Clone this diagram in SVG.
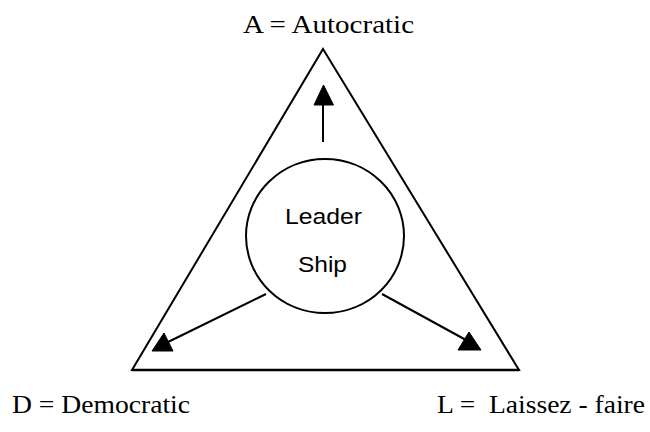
<svg xmlns="http://www.w3.org/2000/svg" width="650" height="432" viewBox="0 0 650 432">
  <style>
    .shape { fill: none; stroke: #000; stroke-width: 2; stroke-linejoin: miter; }
    .line { stroke: #000; stroke-width: 2; fill: none; }
    .head { fill: #000; stroke: #000; stroke-width: 1; stroke-linejoin: round; }
    .serif { font-family: "Liberation Serif", "Times New Roman", serif; font-size: 26px; fill: #000; }
    .sans { font-family: "Liberation Sans", Arial, sans-serif; font-size: 22px; fill: #000; }
  </style>
  <rect width="650" height="432" fill="#fff"/>
  <g id="triangle">
    <polygon class="shape" points="323,49 519,370 132,370"/>
    <line x1="132" y1="370" x2="519" y2="370" stroke="#000" stroke-width="2.6"/>
  </g>
  <g id="leadership">
    <ellipse class="shape" cx="325" cy="236" rx="79" ry="77"/>
    <text class="sans" x="285" y="224" textLength="77" lengthAdjust="spacingAndGlyphs">Leader</text>
    <text class="sans" x="298" y="272" textLength="49" lengthAdjust="spacingAndGlyphs">Ship</text>
  </g>
  <g id="label-A">
    <text class="serif" x="243" y="33" textLength="171" lengthAdjust="spacingAndGlyphs">A = Autocratic</text>
  </g>
  <g id="label-D">
    <text class="serif" x="12" y="413" textLength="178" lengthAdjust="spacingAndGlyphs">D = Democratic</text>
  </g>
  <g id="label-L">
    <text class="serif" x="437" y="413" textLength="208" lengthAdjust="spacingAndGlyphs" xml:space="preserve" style="white-space:pre">L =  Laissez - faire</text>
  </g>
  <g id="connectors">
    <line class="line" x1="323" y1="142" x2="323" y2="104"/>
    <polygon class="head" points="323.5,85 333.5,105 314,105"/>
    <line class="line" x1="266" y1="294" x2="166" y2="343"/>
    <polygon class="head" points="164,333 173,351 152,351"/>
    <line class="line" x1="382" y1="294" x2="466" y2="340"/>
    <polygon class="head" points="469,332 481,350 458,350"/>
  </g>
</svg>
